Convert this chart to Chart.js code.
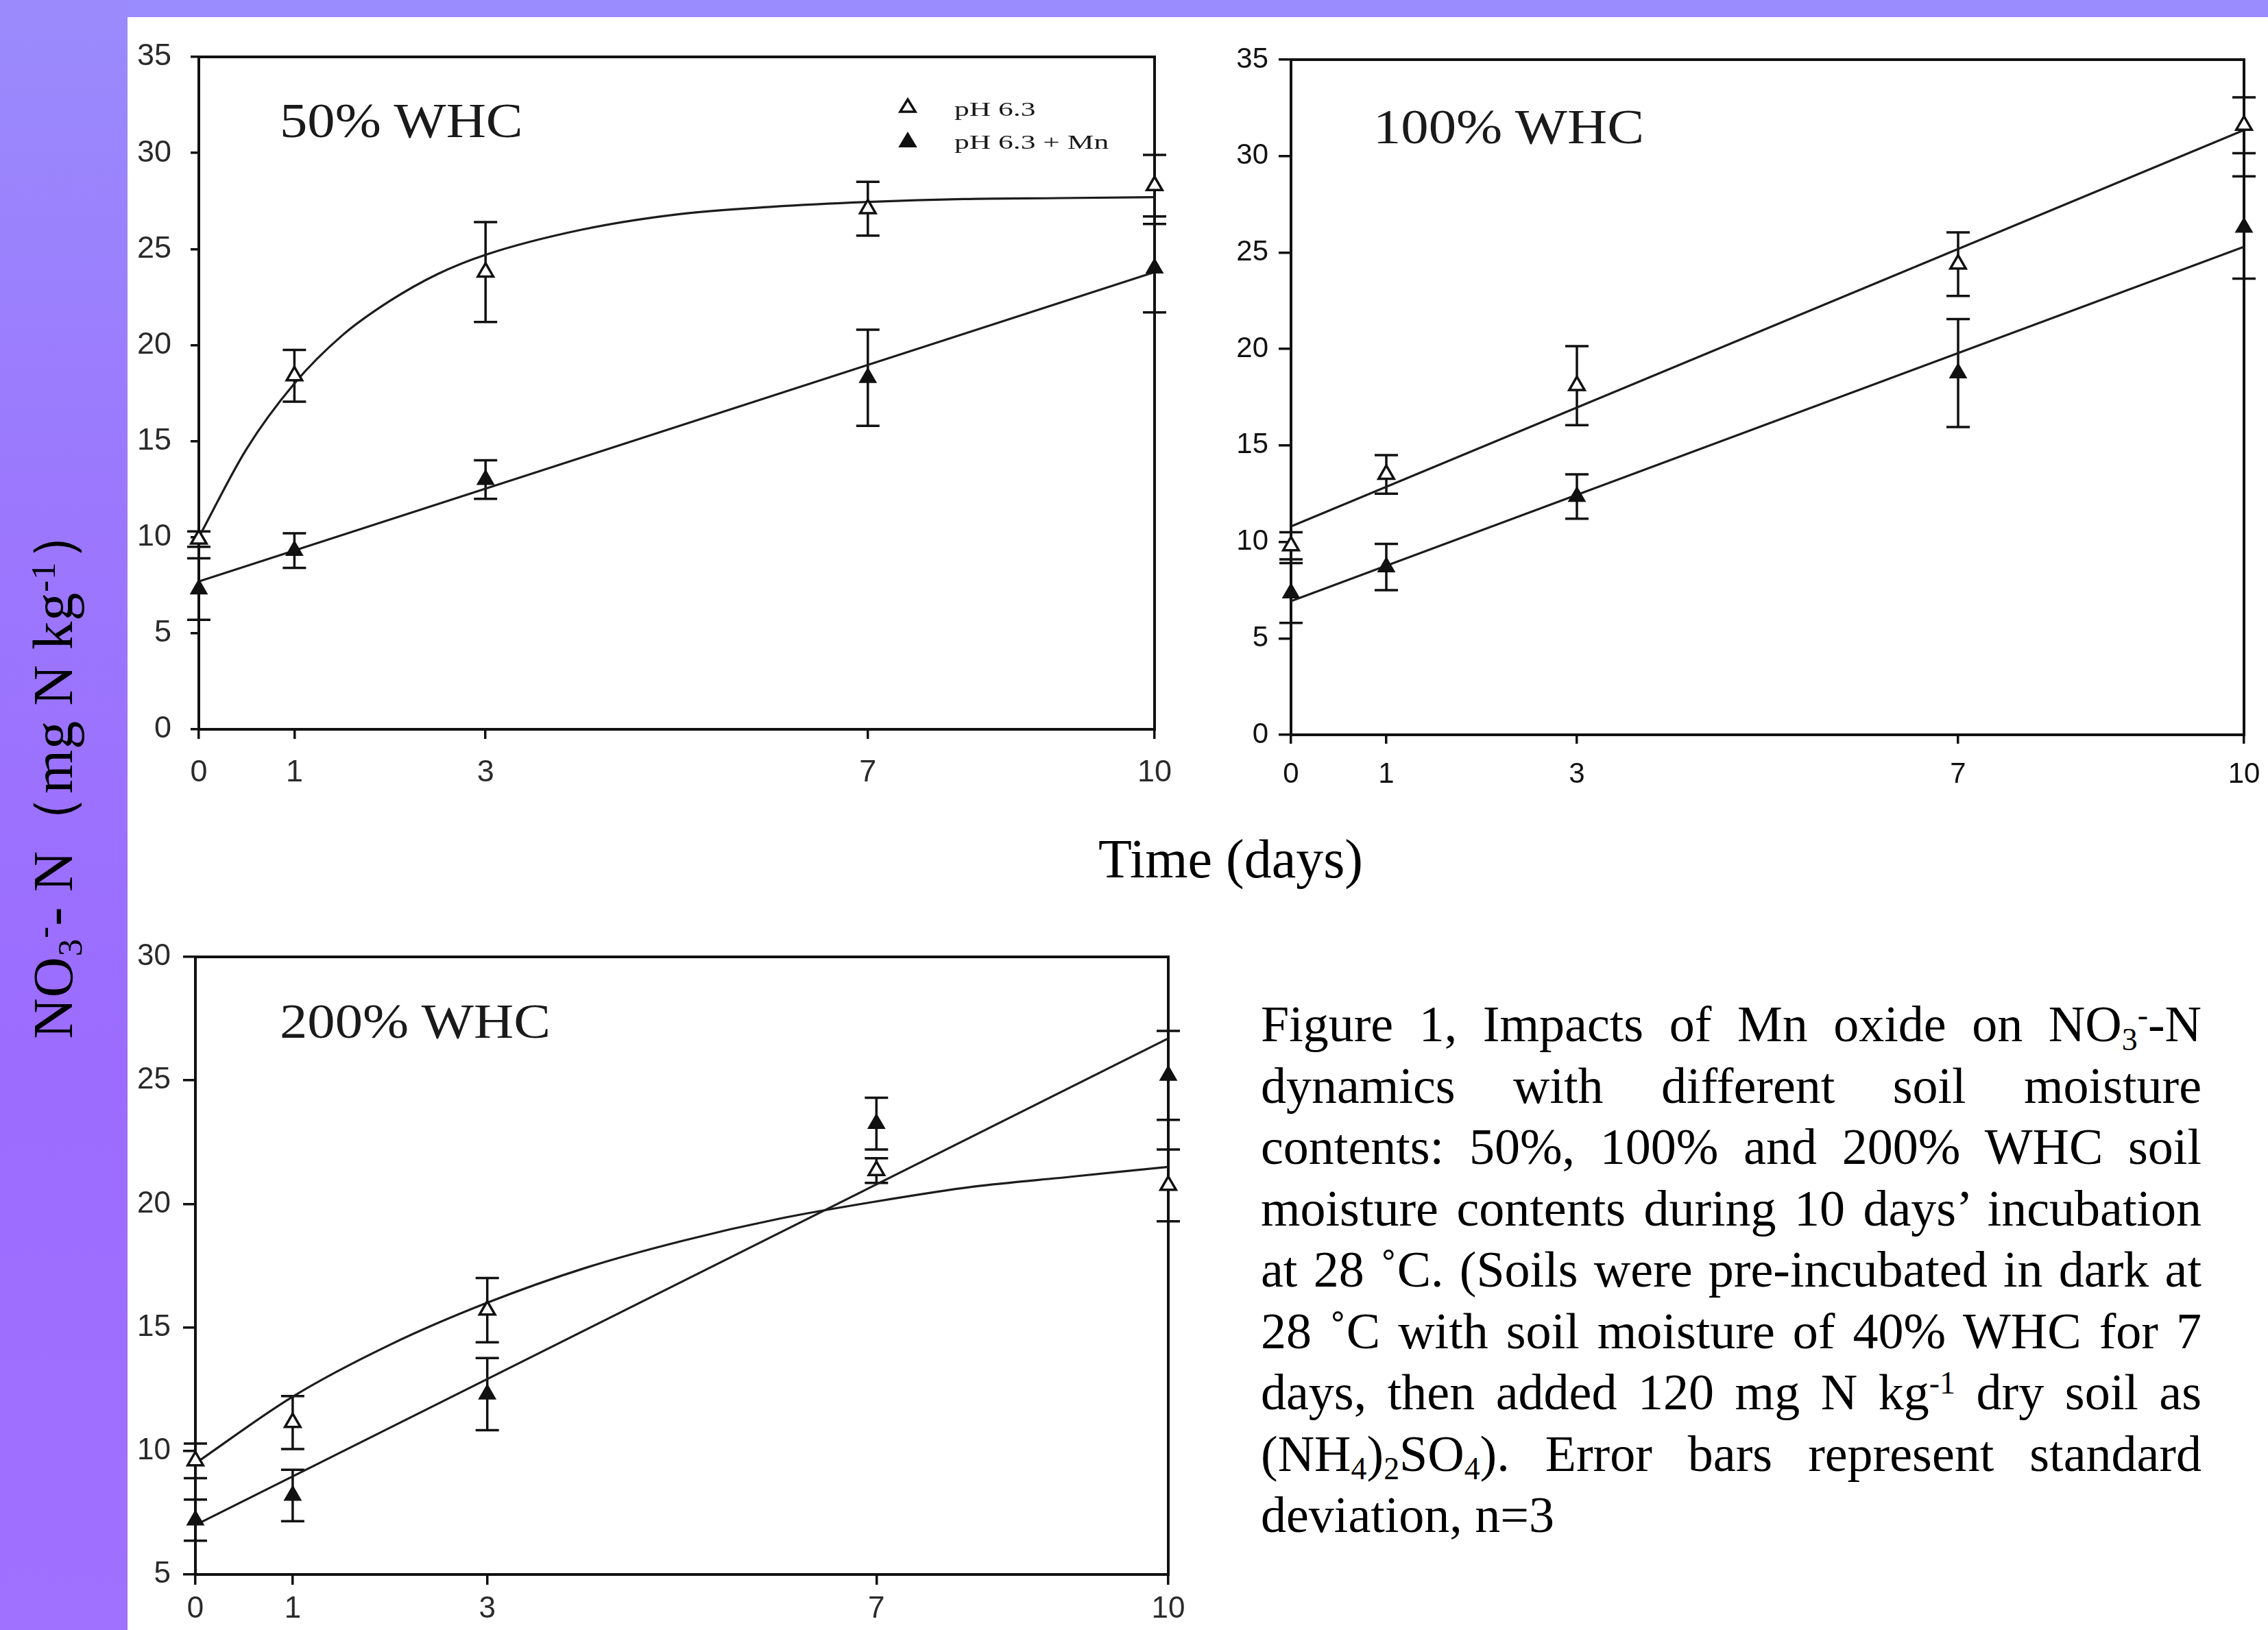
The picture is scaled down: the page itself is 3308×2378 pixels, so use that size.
<!DOCTYPE html>
<html>
<head>
<meta charset="utf-8">
<script src="https://cdn.jsdelivr.net/npm/chart.js@4.4.1/dist/chart.umd.min.js"></script>
<style>
html,body{margin:0;padding:0;}
body{width:3308px;height:2378px;position:relative;overflow:hidden;background:#fff;font-family:"Liberation Serif","Times New Roman",serif;color:#111;}
#topband{position:absolute;left:0;top:0;width:3308px;height:25px;background:#9a8bff;}
#leftband{position:absolute;left:0;top:0;width:186px;height:2378px;background:linear-gradient(180deg,#9a8bfc 0%,#9b78fd 30%,#9c6cff 65%,#a070ff 100%);}
.panel{position:absolute;}
.panel canvas{display:block;}
.ptitle{position:absolute;font-size:72px;line-height:72px;white-space:nowrap;color:#1a1a1a;transform-origin:0 0;transform:scaleX(1.12);}
.leg{position:absolute;font-size:30px;line-height:30px;white-space:nowrap;color:#1a1a1a;transform-origin:0 0;transform:scaleX(1.45);}
.legmark{position:absolute;}
#ytitle{position:absolute;left:78px;top:1126px;font-size:82px;line-height:82px;letter-spacing:1px;white-space:nowrap;color:#000;transform:translate(-50%,-50%) rotate(-90deg);}
#ytitle sub,#ytitle sup{font-size:0.62em;line-height:0;position:relative;vertical-align:baseline;}
#ytitle sub{top:0.28em;}
#ytitle sup{top:-0.5em;}
#xtitle{position:absolute;left:1395px;top:1213px;width:800px;text-align:center;font-size:80px;line-height:80px;white-space:nowrap;color:#000;}
#caption{position:absolute;left:1839px;top:1450px;width:1372px;font-size:74px;color:#000;}
.cl{height:89.5px;line-height:89.5px;text-align:justify;text-align-last:justify;}
.cl.last{text-align:left;text-align-last:left;}
#caption sub,#caption sup{font-size:0.62em;line-height:0;position:relative;vertical-align:baseline;}
#caption sub{top:0.28em;}
#caption sup{top:-0.5em;}
</style>
</head>
<body>
<div id="topband"></div>
<div id="leftband"></div>

<div class="panel" style="left:190px;top:40px;width:1550px;height:1140px;"><canvas id="c50" width="1550" height="1140"></canvas></div>
<div class="panel" style="left:1780px;top:40px;width:1528px;height:1140px;"><canvas id="c100" width="1528" height="1140"></canvas></div>
<div class="panel" style="left:190px;top:1350px;width:1570px;height:1028px;"><canvas id="c200" width="1570" height="1028"></canvas></div>

<div class="ptitle" style="left:408px;top:140px;">50% WHC</div>
<div class="ptitle" style="left:2003px;top:149px;">100% WHC</div>
<div class="ptitle" style="left:408px;top:1454px;">200% WHC</div>

<svg class="legmark" style="left:1310px;top:142px;" width="28" height="24"><polygon points="14,3 25,21 3,21" fill="#fff" stroke="#111" stroke-width="3.5"/></svg>
<svg class="legmark" style="left:1310px;top:192px;" width="28" height="24"><polygon points="14,2 26,22 2,22" fill="#111" stroke="#111" stroke-width="2"/></svg>
<div class="leg" style="left:1392px;top:144px;">pH 6.3</div>
<div class="leg" style="left:1392px;top:192px;">pH 6.3 + Mn</div>

<div id="ytitle">NO<sub>3</sub><sup>-</sup>- N（mg N kg<sup>-1</sup>）</div>
<div id="xtitle">Time (days)</div>

<div id="caption">
<div class="cl">Figure 1, Impacts of Mn oxide on NO<sub>3</sub><sup>-</sup>-N</div>
<div class="cl">dynamics with different soil moisture</div>
<div class="cl">contents: 50%, 100% and 200% WHC soil</div>
<div class="cl">moisture contents during 10 days’ incubation</div>
<div class="cl">at 28 ˚C. (Soils were pre-incubated in dark at</div>
<div class="cl">28 ˚C with soil moisture of 40% WHC for 7</div>
<div class="cl">days, then added 120 mg N kg<sup>-1</sup> dry soil as</div>
<div class="cl">(NH<sub>4</sub>)<sub>2</sub>SO<sub>4</sub>). Error bars represent standard</div>
<div class="cl last">deviation, n=3</div>
</div>

<script>
// ---- data ----
const days = [0, 1, 3, 7, 10];
const xTickValues = [0, 1, 3, 7, 10];
const lineEnds = [0, 10];

// 50% WHC
const whc50Ph = [9.9, 18.4, 23.8, 27.1, 28.3];
const whc50PhErr = [0.4, 1.35, 2.6, 1.4, 1.6];
const whc50Mn = [7.3, 9.3, 13.0, 18.3, 24.0];
const whc50MnErr = [1.6, 0.9, 1.0, 2.5, 2.3];
const whc50PhFitDays = [0, 0.5, 1, 1.5, 2, 2.5, 3, 4, 5, 6, 7, 8, 9, 10];
const whc50PhFit = [10.0, 14.6, 18.0, 20.5, 22.3, 23.7, 24.7, 26.0, 26.8, 27.2, 27.45, 27.6, 27.65, 27.7];
const whc50MnFit = [7.7, 23.8];

// 100% WHC
const whc100Ph = [9.8, 13.5, 18.1, 24.4, 31.6];
const whc100PhErr = [0.7, 1.0, 2.05, 1.65, 1.45];
const whc100Mn = [7.35, 8.7, 12.35, 18.75, 26.3];
const whc100MnErr = [1.55, 1.2, 1.15, 2.8, 2.65];
const whc100PhFit = [10.8, 31.35];
const whc100MnFit = [6.93, 25.3];

// 200% WHC
const whc200Ph = [9.6, 11.15, 15.7, 21.35, 20.75];
const whc200PhErr = [0.7, 1.07, 1.3, 0.5, 1.45];
const whc200Mn = [7.2, 8.2, 12.3, 23.25, 25.2];
const whc200MnErr = [0.83, 1.04, 1.46, 1.05, 1.8];
const whc200PhFitDays = [0, 1, 2, 3, 4, 5, 6, 7, 8, 9, 10];
const whc200PhFit = [9.5, 12.2, 14.3, 16.0, 17.4, 18.5, 19.4, 20.1, 20.7, 21.1, 21.5];
const whc200MnFit = [7.0, 26.7];

const seriesLabels = ['pH 6.3', 'pH 6.3 + Mn'];

// ---- helpers ----
const pts = (xs, ys) => xs.map((x, i) => ({ x: x, y: ys[i] }));
const INK = '#111';

const framePlugin = {
  id: 'frame',
  beforeDatasetsDraw(chart) {
    const ctx = chart.ctx, a = chart.chartArea;
    ctx.save();
    ctx.strokeStyle = INK; ctx.lineWidth = 4; ctx.lineCap = 'square';
    ctx.beginPath();
    ctx.moveTo(a.left, a.top); ctx.lineTo(a.right, a.top); ctx.lineTo(a.right, a.bottom);
    ctx.stroke();
    ctx.restore();
  }
};

const errorBarPlugin = {
  id: 'errbars',
  beforeDatasetsDraw(chart) {
    const ctx = chart.ctx, xs = chart.scales.x, ys = chart.scales.y;
    ctx.save();
    ctx.strokeStyle = INK; ctx.lineWidth = 3.5;
    chart.data.datasets.forEach(ds => {
      if (!ds.errorBars) return;
      ds.data.forEach((p, i) => {
        const e = ds.errorBars[i];
        const px = xs.getPixelForValue(p.x);
        const yt = ys.getPixelForValue(p.y + e), yb = ys.getPixelForValue(p.y - e);
        ctx.beginPath();
        ctx.moveTo(px, yt); ctx.lineTo(px, yb);
        ctx.moveTo(px - 17, yt); ctx.lineTo(px + 17, yt);
        ctx.moveTo(px - 17, yb); ctx.lineTo(px + 17, yb);
        ctx.stroke();
      });
    });
    ctx.restore();
  }
};

function makePanel(id, c) {
  const tickFont = { family: c.font, size: c.fs, lineHeight: 1 };
  return new Chart(document.getElementById(id), {
    type: 'line',
    data: {
      datasets: [
        { label: seriesLabels[0], data: pts(days, c.ph), errorBars: c.phErr, showLine: false,
          pointStyle: 'triangle', pointRadius: 13, pointBackgroundColor: '#fff', pointBorderColor: INK, pointBorderWidth: 3.5, clip: false },
        { label: seriesLabels[1], data: pts(days, c.mn), errorBars: c.mnErr, showLine: false,
          pointStyle: 'triangle', pointRadius: 14, pointBackgroundColor: INK, pointBorderColor: INK, pointBorderWidth: 1.5, clip: false },
        { label: seriesLabels[0] + ' fit', data: pts(c.phFitX, c.phFit), borderColor: '#1c1c1c', borderWidth: 3.2,
          pointRadius: 0, cubicInterpolationMode: 'monotone', fill: false, clip: false },
        { label: seriesLabels[1] + ' fit', data: pts(c.mnFitX, c.mnFit), borderColor: '#1c1c1c', borderWidth: 3.2,
          pointRadius: 0, cubicInterpolationMode: 'monotone', fill: false, clip: false }
      ]
    },
    options: {
      responsive: false, animation: false, devicePixelRatio: 1,
      layout: { padding: { top: c.padTop, right: c.padRight, left: 0, bottom: 0 } },
      plugins: { legend: { display: false }, tooltip: { enabled: false } },
      scales: {
        x: {
          type: 'linear', position: 'bottom', min: 0, max: 10,
          afterBuildTicks: s => { s.ticks = xTickValues.map(v => ({ value: v })); },
          afterFit: s => { s.height = c.xH; s.paddingLeft = 0; s.paddingRight = 0; },
          grid: { drawOnChartArea: false, drawTicks: true, tickLength: c.xTl, color: INK, lineWidth: 3.5 },
          border: { display: true, color: INK, width: 4 },
          ticks: { padding: c.xPad, color: c.tickColor, font: tickFont, maxRotation: 0, autoSkip: false }
        },
        y: {
          type: 'linear', position: 'left', min: c.yMin, max: c.yMax,
          afterFit: s => { s.width = c.yW; s.paddingTop = 0; s.paddingBottom = 0; },
          grid: { drawOnChartArea: false, drawTicks: true, tickLength: c.yTl, color: INK, lineWidth: 3.5 },
          border: { display: true, color: INK, width: 4 },
          ticks: { stepSize: 5, padding: c.yPad, color: c.tickColor, font: tickFont }
        }
      }
    },
    plugins: [framePlugin, errorBarPlugin]
  });
}

makePanel('c50', {
  ph: whc50Ph, phErr: whc50PhErr, mn: whc50Mn, mnErr: whc50MnErr,
  phFitX: whc50PhFitDays, phFit: whc50PhFit, mnFitX: lineEnds, mnFit: whc50MnFit,
  yMin: 0, yMax: 35, padTop: 43, padRight: 56, yW: 100, xH: 116,
  xTl: 14, xPad: 27, yTl: 12, yPad: 28, tickColor: '#2a2a2a',
  font: '"Liberation Sans Narrow", "Liberation Sans", sans-serif', fs: 45
});
makePanel('c100', {
  ph: whc100Ph, phErr: whc100PhErr, mn: whc100Mn, mnErr: whc100MnErr,
  phFitX: lineEnds, phFit: whc100PhFit, mnFitX: lineEnds, mnFit: whc100MnFit,
  yMin: 0, yMax: 35, padTop: 47, padRight: 35, yW: 103, xH: 108,
  xTl: 13, xPad: 24, yTl: 18, yPad: 15, tickColor: '#111',
  font: '"Liberation Sans", Arial, sans-serif', fs: 42
});
makePanel('c200', {
  ph: whc200Ph, phErr: whc200PhErr, mn: whc200Mn, mnErr: whc200MnErr,
  phFitX: whc200PhFitDays, phFit: whc200PhFit, mnFitX: lineEnds, mnFit: whc200MnFit,
  yMin: 5, yMax: 30, padTop: 46, padRight: 56, yW: 95, xH: 81,
  xTl: 15, xPad: 14, yTl: 18, yPad: 18, tickColor: '#2a2a2a',
  font: '"Liberation Sans Narrow", "Liberation Sans", sans-serif', fs: 44
});
</script>
</body>
</html>
